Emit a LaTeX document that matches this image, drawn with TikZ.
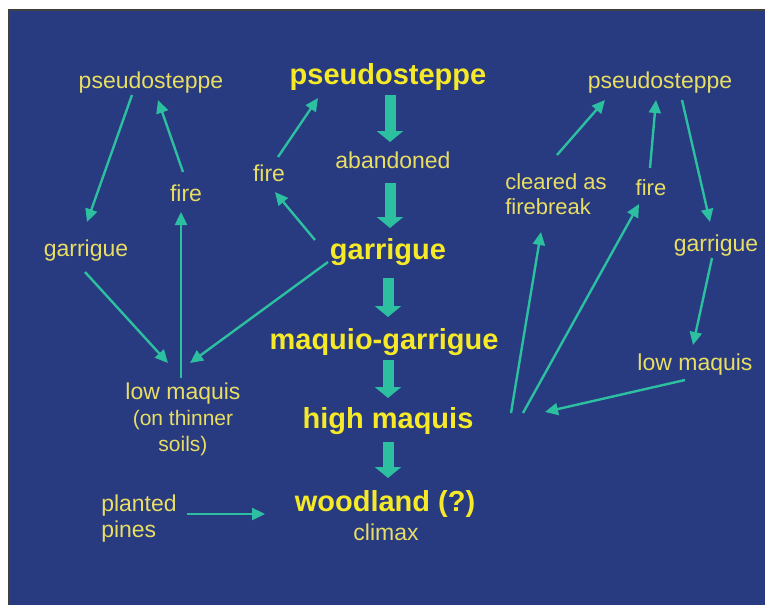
\documentclass[tikz,border=0pt]{standalone}
\usepackage{fontspec}
\setmainfont{Liberation Sans}
\usetikzlibrary{arrows.meta}
\definecolor{slideblue}{RGB}{40,58,128}
\definecolor{paleyellow}{RGB}{232,222,100}
\definecolor{stageyellow}{RGB}{246,234,40}
\definecolor{linkgreen}{RGB}{44,192,160}
\tikzset{
  lbl/.style={text=paleyellow,font=\fontsize{23}{26}\selectfont,inner sep=0pt,align=center},
  stage/.style={text=stageyellow,font=\fontsize{29}{32}\selectfont\bfseries,inner sep=0pt},
  link/.style={draw=linkgreen,line width=2.4pt,-{Triangle[length=13pt,width=12pt]}},
  succ/.style={draw=linkgreen,line width=11pt,-{Triangle[length=11pt,width=26pt]}}
}
\begin{document}
\begin{tikzpicture}[x=1pt,y=-1pt]
    \useasboundingbox (0,0) rectangle (765,605);
    \fill [white] (0,0) rectangle (765,605);
    \fill [slideblue] (8,9) rectangle (765,605);
    \draw [black!75,line width=1.5pt] (8.75,605) -- (8.75,9.75) -- (765,9.75);
    % main sequence
    \node [stage] (ps2) at (388,77) {pseudosteppe};
    \node [lbl] (ab) at (393,160) {abandoned};
    \node [stage] (gar2) at (388,252) {garrigue};
    \node [stage] (mg) at (384,342) {maquio-garrigue};
    \node [stage] (hm) at (388,421) {high maquis};
    \node [stage] (wood) at (385,504) {woodland (?)};
    \node [lbl] (clim) at (386,532) {climax};
    % left cycle
    \node [lbl] (ps1) at (151,83) {pseudosteppe};
    \node [lbl] (fire1) at (186,193) {fire};
    \node [lbl] (gar1) at (86,251) {garrigue};
    \node [lbl] (fire2) at (269,173) {fire};
    \node [lbl] (lowL) at (183,419) {low maquis\\{\fontsize{21}{25}\selectfont (on thinner}\\{\fontsize{21}{25}\selectfont soils)}};
    \node [lbl,align=left] (pp) at (139,519) {planted\\pines};
    % right cycle
    \node [lbl] (ps3) at (660,83) {pseudosteppe};
    \node [lbl,align=left,font=\fontsize{22}{25}\selectfont] (clr) at (556,194) {cleared as\\firebreak};
    \node [lbl,font=\fontsize{22}{25}\selectfont] (fire3) at (651,188) {fire};
    \node [lbl] (gar3) at (716,246) {garrigue};
    \node [lbl] (lowR) at (695,365) {low maquis};
    % succession arrows
    \draw [succ] ([xshift=2pt,yshift=-18pt]ps2.center) -- ([xshift=-3pt,yshift=18pt]ab.center);
    \draw [succ] ([xshift=-3pt,yshift=-23pt]ab.center) -- ([xshift=2pt,yshift=24pt]gar2.center);
    \draw [succ] ([yshift=-26pt]gar2.center) -- ([xshift=4pt,yshift=25pt]mg.center);
    \draw [succ] ([xshift=4pt,yshift=-18pt]mg.center) -- ([yshift=23pt]hm.center);
    \draw [succ] ([yshift=-21pt]hm.center) -- ([xshift=3pt,yshift=26pt]wood.center);
    % left links
    \draw [link] ([xshift=-19pt,yshift=-12pt]ps1.center) -- ([xshift=1pt,yshift=29pt]gar1.center);
    \draw [link] ([xshift=-3pt,yshift=21pt]fire1.center) -- ([xshift=7pt,yshift=-17pt]ps1.center);
    \draw [link] ([xshift=-2pt,yshift=41pt]lowL.center) -- ([xshift=-5pt,yshift=-19pt]fire1.center);
    \draw [link] ([xshift=-1pt,yshift=-21pt]gar1.center) -- ([xshift=-15pt,yshift=56pt]lowL.center);
    \draw [link] ([xshift=-60pt,yshift=-10pt]gar2.center) -- ([xshift=7pt,yshift=56pt]lowL.center);
    \draw [link] ([xshift=-73pt,yshift=12pt]gar2.center) -- ([xshift=6pt,yshift=-19pt]fire2.center);
    \draw [link] ([xshift=9pt,yshift=16pt]fire2.center) -- ([xshift=-70pt,yshift=-21pt]ps2.center);
    \draw [link] ([xshift=48pt,yshift=5pt]pp.center) -- ([xshift=-120pt,yshift=-10pt]wood.center);
    % right links
    \draw [link] ([xshift=1pt,yshift=39pt]clr.center) -- ([xshift=-55pt,yshift=-17pt]ps3.center);
    \draw [link] ([xshift=-1pt,yshift=20pt]fire3.center) -- ([xshift=-4pt,yshift=-17pt]ps3.center);
    \draw [link] ([xshift=22pt,yshift=-17pt]ps3.center) -- ([xshift=-6pt,yshift=24pt]gar3.center);
    \draw [link] ([xshift=-4pt,yshift=-12pt]gar3.center) -- ([xshift=-2pt,yshift=20pt]lowR.center);
    \draw [link] ([xshift=-10pt,yshift=-15pt]lowR.center) -- ([xshift=157pt,yshift=9pt]hm.center);
    \draw [link] ([xshift=123pt,yshift=8pt]hm.center) -- ([xshift=-15pt,yshift=-38pt]clr.center);
    \draw [link] ([xshift=135pt,yshift=8pt]hm.center) -- ([xshift=-12pt,yshift=-16pt]fire3.center);
\end{tikzpicture}
\end{document}
